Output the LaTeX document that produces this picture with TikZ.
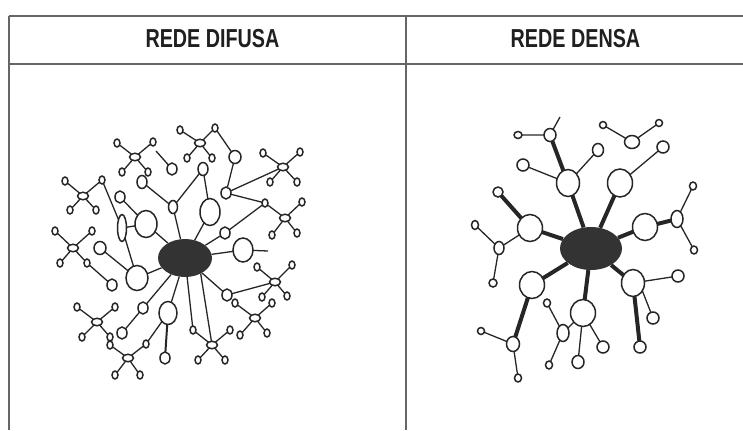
\documentclass[tikz,border=0pt]{standalone}
\usepackage{fontspec}
\setmainfont{Liberation Sans}[FakeStretch=0.76]
\usetikzlibrary{shapes.geometric}
\definecolor{ink}{HTML}{262626}
\definecolor{rulec}{HTML}{666666}
\definecolor{blobc}{HTML}{333333}
\tikzset{
 nd/.style={ellipse, draw=ink, line width=1.5bp, fill=white, inner sep=0pt, outer sep=0pt},
 ln/.style={draw=ink, line width=1.3bp},
 thk/.style={draw=ink, line width=4bp},
 blob/.style={ellipse, fill=blobc, inner sep=0pt},
 hub/.style={nd, minimum width=11bp, minimum height=7.5bp},
 tip/.style={nd, minimum width=6bp, minimum height=8bp},
 hdr/.style={font=\fontsize{26bp}{30bp}\selectfont\bfseries, text=black!88, anchor=base, inner sep=0pt},
 tab/.style={draw=rulec, line width=1.5bp},
}
\newcommand\ov[4]{\node[nd, minimum width=#3bp, minimum height=#4bp] (#1) at (#2) {};}
\newcommand\molec[6]{%
 \node[hub] (#1) at (#2) {};
 \node[tip] (#1a) at (#3) {};
 \node[tip] (#1b) at (#4) {};
 \node[tip] (#1c) at (#5) {};
 \node[tip] (#1d) at (#6) {};
 \draw[ln] (#1)--(#1a) (#1)--(#1b) (#1)--(#1c) (#1)--(#1d);}
\begin{document}
\begin{tikzpicture}[x=1bp,y=-1bp]
\useasboundingbox (0,0) rectangle (743,430);
% table
\coordinate (tl) at (9,16);
\coordinate (tr) at (743,16);
\coordinate (hl) at (9,64);
\coordinate (hr) at (743,64);
\coordinate (bl) at (9,430);
\coordinate (mt) at (406,16);
\coordinate (mb) at (406,430);
\draw[tab] (tl)--(tr) (hl)--(hr) (tl)--(bl) (mt)--(mb);
\node[hdr] (h1) at (212.5,47) {REDE DIFUSA};
\node[hdr] (h2) at (575.5,47) {REDE DENSA};

% ---------------- left: rede difusa
\node[blob, minimum width=54bp, minimum height=38bp] (BL) at (185,258) {};
\ov{N1}{172,169}{10}{12}
\ov{N2}{203,169}{10}{13}
\ov{N3}{142,182}{10}{13}
\ov{N4}{173,207}{9}{13}
\ov{N5}{210,212}{20}{27}
\ov{N6}{120,197}{10}{12}
\ov{N7}{146,224}{22}{27}
\ov{N8}{122,228}{9}{27}
\ov{N9}{100,248}{12}{13}
\ov{N10}{235,157}{12}{13}
\ov{N11}{226,193}{10}{12}
\ov{N12}{225,233}{10}{12}
\ov{N13}{243,250}{20}{24}
\ov{N14}{112,285}{10}{12}
\ov{N15}{137,278}{22}{25}
\ov{N16}{143,308}{10}{12}
\ov{N17}{122,333}{10}{12}
\ov{N18}{168,313}{18}{23}
\ov{N19}{165,358}{10}{12}
\ov{N21}{227,295}{10}{12}
\molec{S1}{200,143}{180,130}{215,128}{187,158}{212,158}
\molec{S2}{135,157}{117,143}{153,142}{122,172}{148,172}
\molec{S3}{83,196}{65,181}{102,180}{70,210}{96,210}
\molec{S4}{73,248}{55,231}{92,231}{60,263}{87,263}
\molec{S5}{97,322}{77,307}{115,307}{82,337}{110,337}
\molec{S6}{128,358}{110,345}{146,344}{115,375}{140,375}
\molec{S7}{212,345}{193,330}{230,330}{198,360}{225,360}
\molec{S8}{255,318}{235,303}{272,303}{240,335}{267,333}
\molec{S9}{275,282}{257,267}{292,265}{262,297}{287,296}
\molec{S10}{285,218}{265,203}{302,202}{272,235}{297,233}
\molec{S11}{283,167}{263,153}{300,152}{270,182}{297,182}
\coordinate (c1) at (156,151);
\coordinate (c2) at (268,251);
\draw[ln] (N3)--(N4) (N4)--(N2) (N2)--(N5) (N6)--(N7) (N8)--(N7)
 (S3b)--(N8) (N8)--(N15) (N9)--(N15) (S4d)--(N14) (N16)--(N17)
 (N18)--(S6b) (N21)--(S9) (N12)--(S10a) (N11)--(S10a) (N11)--(S11)
 (N11)--(N10) (N10)--(S1b) (c1)--(N1) (N13)--(c2);
\draw[ln] (N4)--(BL) (N5)--(BL) (N7)--(BL) (N15)--(BL) (N16)--(BL)
 (N18)--(BL) (S7a)--(BL) (BL.-45)--(S7) (N21)--(BL) (N13)--(BL) (N12)--(BL);
\draw[ln, line width=2bp] (N18)--(N19);

% ---------------- right: rede densa
\node[blob, minimum width=62bp, minimum height=43bp] (BR) at (591,248.5) {};
\ov{R1}{518,135}{8}{7}
\ov{R2}{550,135}{12}{13}
\ov{R3}{568,183}{23}{27}
\ov{R4}{523,165}{12}{12}
\ov{R5}{598,150}{11}{13}
\ov{R6}{498,192}{10}{10}
\ov{R7}{530,228}{25}{27}
\ov{R8}{475,225}{7}{9}
\ov{R9}{499,248}{10}{13}
\ov{R10}{493,283}{8}{8}
\ov{R11}{603,125}{7}{7}
\ov{R12}{632,142}{15}{13}
\ov{R13}{659,123}{7}{7}
\ov{R14}{620,183}{25}{28}
\ov{R15}{663,147}{12}{12}
\ov{R16}{645,227}{25}{27}
\ov{R17}{677,219}{12}{17}
\ov{R18}{693,186}{7}{8}
\ov{R19}{694,250}{7}{8}
\ov{R20}{532,285}{25}{27}
\ov{R21}{513,344}{13}{15}
\ov{R22}{481,331}{7}{7}
\ov{R23}{518,378}{7}{8}
\ov{R24}{583,313}{25}{27}
\ov{R25}{563,333}{12}{17}
\ov{R26}{547,303}{7}{8}
\ov{R27}{549,365}{7}{8}
\ov{R28}{578,362}{12}{13}
\ov{R29}{633,283}{23}{27}
\ov{R30}{678,276}{12}{12}
\ov{R31}{653,318}{12}{12}
\ov{R32}{640,347}{12}{12}
\ov{R33}{603,347}{12}{12}
\coordinate (c3) at (560,117);
\draw[ln] (R1)--(R2) (R2)--(c3) (R4)--(R3) (R3)--(R5) (R8)--(R9) (R9)--(R7)
 (R9)--(R10) (R11)--(R12) (R12)--(R13) (R14)--(R15) (R17)--(R18) (R17)--(R19)
 (R22)--(R21) (R21)--(R23) (R24)--(R25) (R26)--(R25) (R25)--(R27)
 (R24)--(R28) (R24)--(R33) (R29)--(R30) (R29.-40)--(R31);
\draw[thk] (R2)--(R3) (R3)--(BR) (R6)--(R7) (R7)--(BR) (R14)--(BR) (R16)--(BR)
 (R16)--(R17) (BR)--(R20) (R20)--(R21) (BR)--(R24) (BR)--(R29) (R29)--(R32);
\end{tikzpicture}
\end{document}
